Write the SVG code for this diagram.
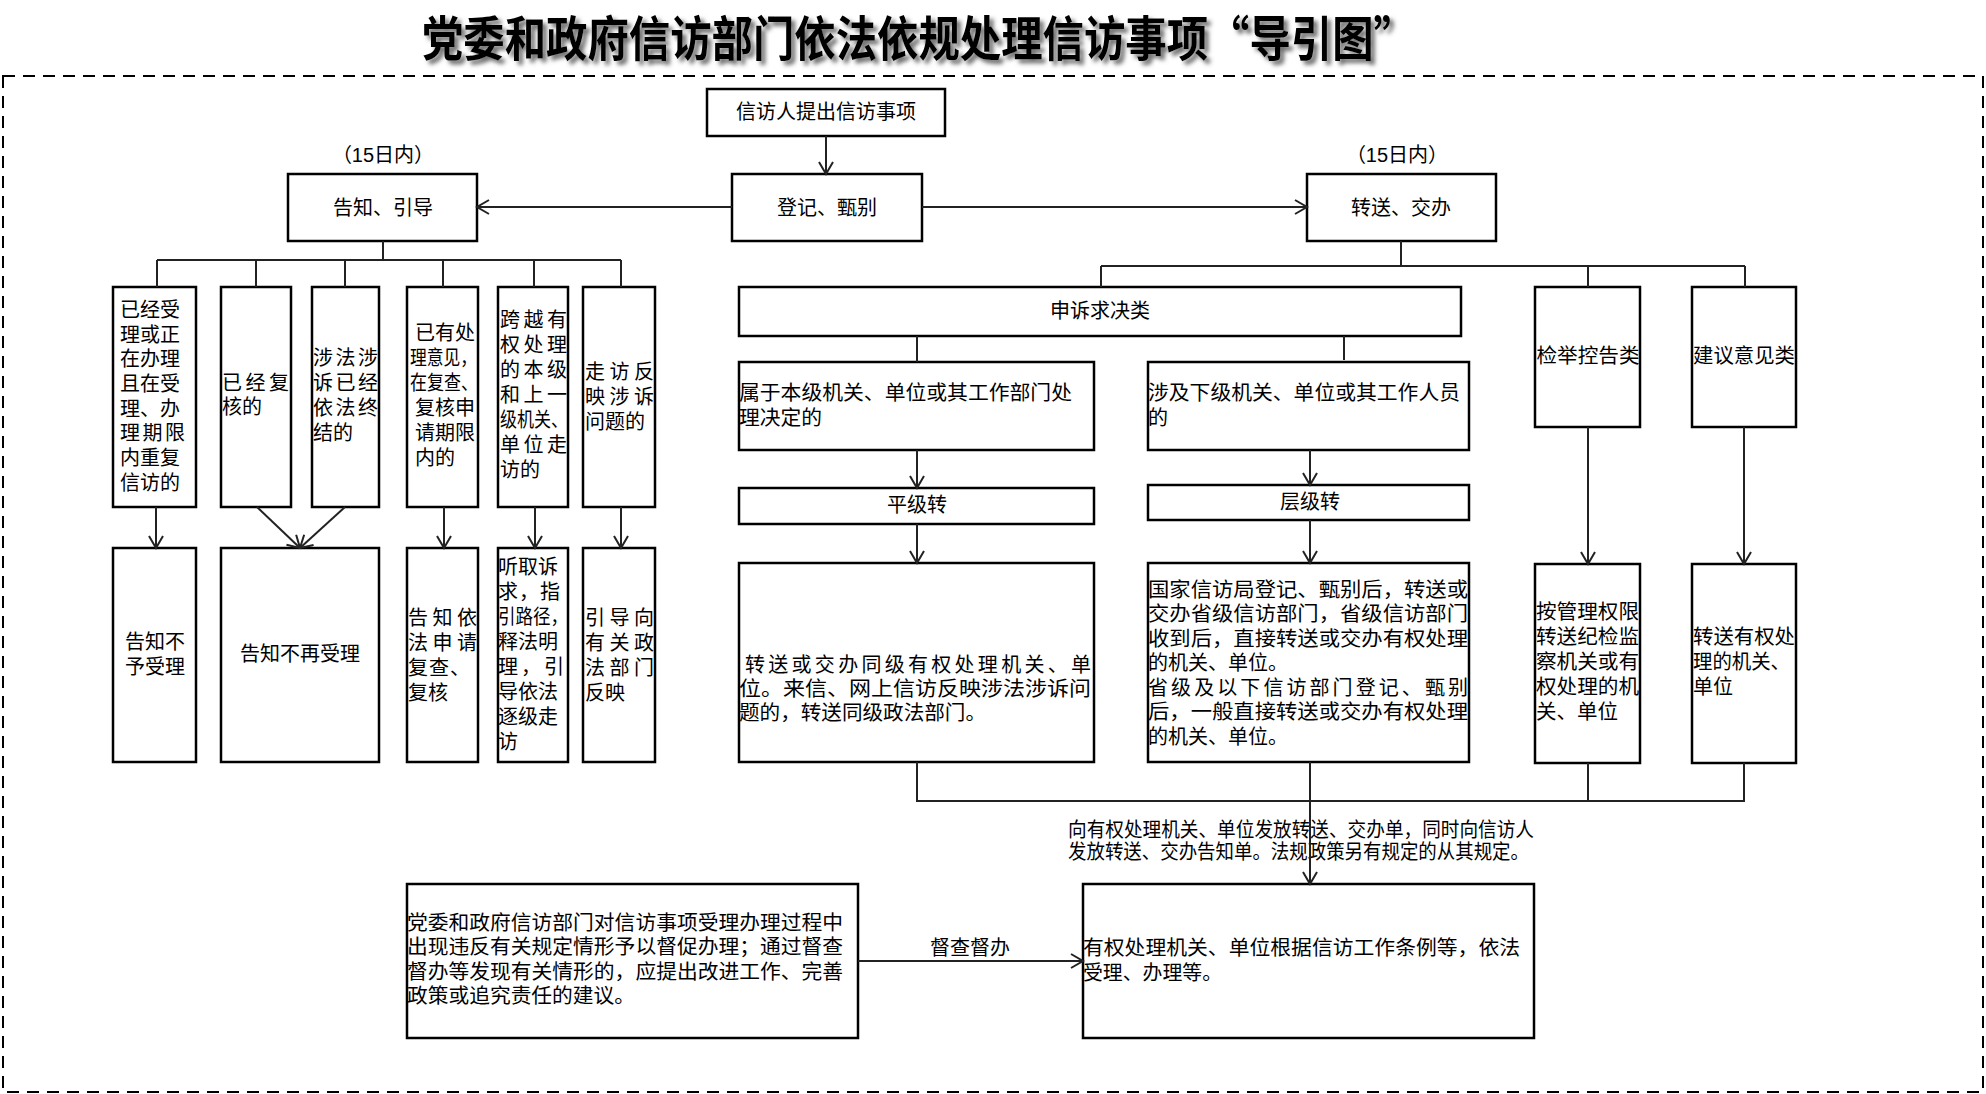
<svg xmlns="http://www.w3.org/2000/svg" width="1986" height="1094" viewBox="0 0 1986 1094">
<defs>
<style>
.b{fill:#fff;stroke:#000;stroke-width:2.5}
.t{font-family:"Liberation Sans","Noto Sans CJK SC",sans-serif;font-size:20px;fill:#000;dominant-baseline:central}
.m{text-anchor:middle}
.c{fill:none;stroke:#222;stroke-width:2}
.ar{marker-end:url(#a)}
</style>
<marker id="a" markerWidth="16" markerHeight="18" refX="13" refY="8" orient="auto" markerUnits="userSpaceOnUse">
<path d="M1,1 L13,8 L1,15" fill="none" stroke="#222" stroke-width="2"/>
</marker>
<filter id="sh" x="-5%" y="-30%" width="110%" height="160%">
<feDropShadow dx="4" dy="4" stdDeviation="2" flood-color="#555" flood-opacity="0.85"/>
</filter>
</defs>
<rect width="1986" height="1094" fill="#fff"/>
<text x="422" y="56" font-family="Noto Sans CJK SC,sans-serif" font-weight="700" font-size="48" textLength="993" lengthAdjust="spacingAndGlyphs" filter="url(#sh)">党委和政府信访部门依法依规处理信访事项“导引图”</text>
<rect x="3" y="76" width="1980" height="1016" fill="none" stroke="#000" stroke-width="2" stroke-dasharray="12 8"/>

<g id="n-start"><rect class="b" x="707" y="89" width="238" height="47"/><text class="t m" x="826" y="112">信访人提出信访事项</text></g>
<g id="n-register"><rect class="b" x="732" y="174" width="190" height="67"/><text class="t m" x="827" y="208">登记、甄别</text></g>
<g id="n-inform"><rect class="b" x="288" y="174" width="189" height="67"/><text class="t m" x="383" y="208">告知、引导</text><text class="t m" x="383" y="155">（15日内）</text></g>
<g id="n-transfer"><rect class="b" x="1307" y="174" width="189" height="67"/><text class="t m" x="1401" y="208">转送、交办</text><text class="t m" x="1397" y="155">（15日内）</text></g>

<g id="n-l1"><rect class="b" x="113" y="287" width="83" height="220"/>
<text class="t"><tspan x="120" y="310">已经受</tspan><tspan x="120" y="335">理或正</tspan><tspan x="120" y="359">在办理</tspan><tspan x="120" y="384">且在受</tspan><tspan x="120" y="409">理、办</tspan><tspan x="120" y="433" textLength="65" lengthAdjust="spacing">理期限</tspan><tspan x="120" y="458">内重复</tspan><tspan x="120" y="483">信访的</tspan></text></g>
<g id="n-l2"><rect class="b" x="221" y="287" width="70" height="220"/>
<text class="t"><tspan x="222" y="383" textLength="67" lengthAdjust="spacing">已经复</tspan><tspan x="222" y="407">核的</tspan></text></g>
<g id="n-l3"><rect class="b" x="312" y="287" width="67" height="220"/>
<text class="t"><tspan x="313" y="358" textLength="65" lengthAdjust="spacing">涉法涉</tspan><tspan x="313" y="383" textLength="65" lengthAdjust="spacing">诉已经</tspan><tspan x="313" y="408" textLength="65" lengthAdjust="spacing">依法终</tspan><tspan x="313" y="433">结的</tspan></text></g>
<g id="n-l4"><rect class="b" x="407" y="287" width="71" height="220"/>
<text class="t"><tspan x="415" y="333">已有处</tspan><tspan x="410" y="358" textLength="67" lengthAdjust="spacingAndGlyphs">理意见，</tspan><tspan x="410" y="383" textLength="68" lengthAdjust="spacingAndGlyphs">在复查、</tspan><tspan x="415" y="408">复核申</tspan><tspan x="415" y="433">请期限</tspan><tspan x="415" y="458">内的</tspan></text></g>
<g id="n-l5"><rect class="b" x="498" y="287" width="70" height="220"/>
<text class="t"><tspan x="500" y="320" textLength="67" lengthAdjust="spacing">跨越有</tspan><tspan x="500" y="345" textLength="67" lengthAdjust="spacing">权处理</tspan><tspan x="500" y="370" textLength="67" lengthAdjust="spacing">的本级</tspan><tspan x="500" y="395" textLength="67" lengthAdjust="spacing">和上一</tspan><tspan x="500" y="420" textLength="68" lengthAdjust="spacingAndGlyphs">级机关、</tspan><tspan x="500" y="445" textLength="67" lengthAdjust="spacing">单位走</tspan><tspan x="500" y="470">访的</tspan></text></g>
<g id="n-l6"><rect class="b" x="583" y="287" width="72" height="220"/>
<text class="t"><tspan x="585" y="372" textLength="69" lengthAdjust="spacing">走访反</tspan><tspan x="585" y="397" textLength="69" lengthAdjust="spacing">映涉诉</tspan><tspan x="585" y="422">问题的</tspan></text></g>

<g id="n-la"><rect class="b" x="113" y="548" width="83" height="214"/><text class="t m"><tspan x="155" y="642">告知不</tspan><tspan x="155" y="667">予受理</tspan></text></g>
<g id="n-lb"><rect class="b" x="221" y="548" width="158" height="214"/><text class="t m" x="300" y="654">告知不再受理</text></g>
<g id="n-lc"><rect class="b" x="407" y="548" width="71" height="214"/>
<text class="t"><tspan x="408" y="618" textLength="69" lengthAdjust="spacing">告知依</tspan><tspan x="408" y="643" textLength="69" lengthAdjust="spacing">法申请</tspan><tspan x="408" y="668" textLength="62" lengthAdjust="spacing">复查、</tspan><tspan x="408" y="693">复核</tspan></text></g>
<g id="n-ld"><rect class="b" x="498" y="548" width="70" height="214"/>
<text class="t"><tspan x="498" y="567">听取诉</tspan><tspan x="498" y="592" textLength="62" lengthAdjust="spacing">求，指</tspan><tspan x="498" y="617" textLength="70" lengthAdjust="spacingAndGlyphs">引路径，</tspan><tspan x="498" y="642">释法明</tspan><tspan x="498" y="667" textLength="66" lengthAdjust="spacing">理，引</tspan><tspan x="498" y="692">导依法</tspan><tspan x="498" y="717">逐级走</tspan><tspan x="498" y="742">访</tspan></text></g>
<g id="n-le"><rect class="b" x="583" y="548" width="72" height="214"/>
<text class="t"><tspan x="585" y="618" textLength="69" lengthAdjust="spacing">引导向</tspan><tspan x="585" y="643" textLength="69" lengthAdjust="spacing">有关政</tspan><tspan x="585" y="668" textLength="69" lengthAdjust="spacing">法部门</tspan><tspan x="585" y="693">反映</tspan></text></g>

<g id="n-appeal"><rect class="b" x="739" y="287" width="722" height="49"/><text class="t m" x="1100" y="311">申诉求决类</text></g>
<g id="n-same"><rect class="b" x="739" y="362" width="355" height="88"/><text class="t"><tspan x="739" y="393" textLength="333" lengthAdjust="spacingAndGlyphs">属于本级机关、单位或其工作部门处</tspan><tspan x="739" y="418" textLength="83" lengthAdjust="spacingAndGlyphs">理决定的</tspan></text></g>
<g id="n-lower"><rect class="b" x="1148" y="362" width="321" height="88"/><text class="t"><tspan x="1148" y="393" textLength="312" lengthAdjust="spacingAndGlyphs">涉及下级机关、单位或其工作人员</tspan><tspan x="1148" y="418">的</tspan></text></g>
<g id="n-flat"><rect class="b" x="739" y="488" width="355" height="36"/><text class="t m" x="917" y="505">平级转</text></g>
<g id="n-level"><rect class="b" x="1148" y="485" width="321" height="35"/><text class="t m" x="1310" y="502">层级转</text></g>
<g id="n-flat-do"><rect class="b" x="739" y="563" width="355" height="199"/>
<text class="t"><tspan x="745" y="665" textLength="346" lengthAdjust="spacing">转送或交办同级有权处理机关、单</tspan><tspan x="739" y="689" textLength="352" lengthAdjust="spacingAndGlyphs">位。来信、网上信访反映涉法涉诉问</tspan><tspan x="739" y="713" textLength="247" lengthAdjust="spacingAndGlyphs">题的，转送同级政法部门。</tspan></text></g>
<g id="n-level-do"><rect class="b" x="1148" y="563" width="321" height="199"/>
<text class="t"><tspan x="1148" y="590" textLength="320" lengthAdjust="spacingAndGlyphs">国家信访局登记、甄别后，转送或</tspan><tspan x="1148" y="614" textLength="320" lengthAdjust="spacingAndGlyphs">交办省级信访部门，省级信访部门</tspan><tspan x="1148" y="639" textLength="320" lengthAdjust="spacingAndGlyphs">收到后，直接转送或交办有权处理</tspan><tspan x="1148" y="663" textLength="140" lengthAdjust="spacingAndGlyphs">的机关、单位。</tspan><tspan x="1148" y="688" textLength="320" lengthAdjust="spacing">省级及以下信访部门登记、甄别</tspan><tspan x="1148" y="712" textLength="320" lengthAdjust="spacingAndGlyphs">后，一般直接转送或交办有权处理</tspan><tspan x="1148" y="737" textLength="140" lengthAdjust="spacingAndGlyphs">的机关、单位。</tspan></text></g>
<g id="n-report"><rect class="b" x="1535" y="287" width="105" height="140"/><text class="t m" x="1588" y="356" textLength="103" lengthAdjust="spacingAndGlyphs">检举控告类</text></g>
<g id="n-suggest"><rect class="b" x="1692" y="287" width="104" height="140"/><text class="t m" x="1744" y="356" textLength="102" lengthAdjust="spacingAndGlyphs">建议意见类</text></g>
<g id="n-report-do"><rect class="b" x="1535" y="564" width="105" height="199"/>
<text class="t"><tspan x="1536" y="612" textLength="103" lengthAdjust="spacingAndGlyphs">按管理权限</tspan><tspan x="1536" y="637" textLength="103" lengthAdjust="spacingAndGlyphs">转送纪检监</tspan><tspan x="1536" y="662" textLength="103" lengthAdjust="spacingAndGlyphs">察机关或有</tspan><tspan x="1536" y="687" textLength="103" lengthAdjust="spacingAndGlyphs">权处理的机</tspan><tspan x="1536" y="712" textLength="82" lengthAdjust="spacingAndGlyphs">关、单位</tspan></text></g>
<g id="n-suggest-do"><rect class="b" x="1692" y="564" width="104" height="199"/>
<text class="t"><tspan x="1693" y="637" textLength="102" lengthAdjust="spacingAndGlyphs">转送有权处</tspan><tspan x="1693" y="662" textLength="97" lengthAdjust="spacingAndGlyphs">理的机关、</tspan><tspan x="1693" y="687">单位</tspan></text></g>

<g id="n-handle"><rect class="b" x="1083" y="884" width="451" height="154"/>
<text class="t"><tspan x="1083" y="948" textLength="437" lengthAdjust="spacingAndGlyphs">有权处理机关、单位根据信访工作条例等，依法</tspan><tspan x="1083" y="973" textLength="139" lengthAdjust="spacingAndGlyphs">受理、办理等。</tspan></text></g>
<g id="n-supervise"><rect class="b" x="407" y="884" width="451" height="154"/>
<text class="t"><tspan x="407" y="923" textLength="436" lengthAdjust="spacingAndGlyphs">党委和政府信访部门对信访事项受理办理过程中</tspan><tspan x="407" y="947" textLength="436" lengthAdjust="spacingAndGlyphs">出现违反有关规定情形予以督促办理；通过督查</tspan><tspan x="407" y="972" textLength="436" lengthAdjust="spacingAndGlyphs">督办等发现有关情形的，应提出改进工作、完善</tspan><tspan x="407" y="996" textLength="228" lengthAdjust="spacingAndGlyphs">政策或追究责任的建议。</tspan></text></g>

<g id="labels">
<text class="t" font-size="19"><tspan x="1068" y="830" textLength="466" lengthAdjust="spacingAndGlyphs">向有权处理机关、单位发放转送、交办单，同时向信访人</tspan><tspan x="1068" y="852" textLength="461" lengthAdjust="spacingAndGlyphs">发放转送、交办告知单。法规政策另有规定的从其规定。</tspan></text>
<text class="t m" x="970" y="948">督查督办</text>
</g>

<g id="connectors">
<line class="c ar" x1="826" y1="136" x2="826" y2="174"/>
<line class="c ar" x1="732" y1="207" x2="477" y2="207"/>
<line class="c ar" x1="922" y1="207" x2="1307" y2="207"/>
<line class="c" x1="383" y1="241" x2="383" y2="260"/>
<line class="c" x1="157" y1="260" x2="621" y2="260"/>
<line class="c" x1="157" y1="260" x2="157" y2="287"/>
<line class="c" x1="256" y1="260" x2="256" y2="287"/>
<line class="c" x1="345" y1="260" x2="345" y2="287"/>
<line class="c" x1="443" y1="260" x2="443" y2="287"/>
<line class="c" x1="534" y1="260" x2="534" y2="287"/>
<line class="c" x1="621" y1="260" x2="621" y2="287"/>
<line class="c ar" x1="156" y1="507" x2="156" y2="548"/>
<line class="c ar" x1="257" y1="507" x2="300" y2="548"/>
<line class="c ar" x1="345" y1="507" x2="300" y2="548"/>
<line class="c ar" x1="444" y1="507" x2="444" y2="548"/>
<line class="c ar" x1="535" y1="507" x2="535" y2="548"/>
<line class="c ar" x1="621" y1="507" x2="621" y2="548"/>
<line class="c" x1="1401" y1="241" x2="1401" y2="266"/>
<line class="c" x1="1101" y1="266" x2="1745" y2="266"/>
<line class="c" x1="1101" y1="266" x2="1101" y2="287"/>
<line class="c" x1="1588" y1="266" x2="1588" y2="287"/>
<line class="c" x1="1745" y1="266" x2="1745" y2="287"/>
<line class="c" x1="917" y1="336" x2="917" y2="362"/>
<line class="c" x1="1344" y1="336" x2="1344" y2="360"/>
<line class="c ar" x1="917" y1="450" x2="917" y2="488"/>
<line class="c ar" x1="1310" y1="450" x2="1310" y2="485"/>
<line class="c ar" x1="917" y1="524" x2="917" y2="563"/>
<line class="c ar" x1="1310" y1="520" x2="1310" y2="563"/>
<line class="c ar" x1="1588" y1="427" x2="1588" y2="564"/>
<line class="c ar" x1="1744" y1="427" x2="1744" y2="564"/>
<polyline class="c" points="917,762 917,801 1744,801 1744,763"/>
<line class="c" x1="1588" y1="763" x2="1588" y2="801"/>
<line class="c ar" x1="1310" y1="762" x2="1310" y2="884"/>
<line class="c ar" x1="858" y1="961" x2="1083" y2="961"/>
</g>
</svg>
